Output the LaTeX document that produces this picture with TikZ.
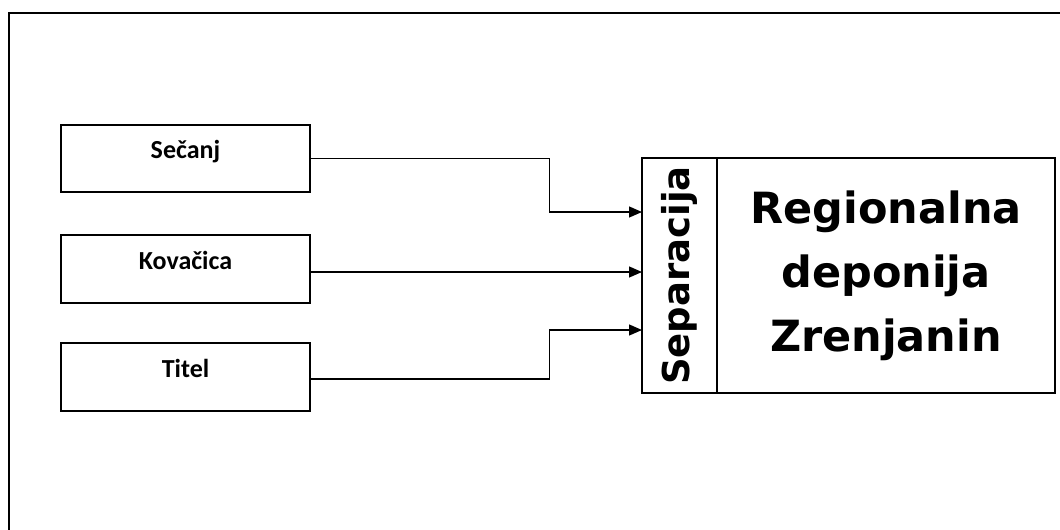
\documentclass[tikz,border=0pt]{standalone}
\usepackage{fontspec}
\setmainfont{Carlito}
\newfontfamily\bigfont{DejaVu Sans}
\usetikzlibrary{arrows.meta}
\begin{document}
\begin{tikzpicture}[x=1pt,y=-1pt,
  srcbox/.style={draw, line width=1.4pt, minimum width=249pt, inner sep=0pt,
    text height=10pt, text depth=10pt, font=\fontsize{26}{30}\selectfont\bfseries},
  bigbox/.style={draw, line width=1.3pt, minimum height=235pt, inner sep=0pt},
  conn/.style={line width=1.3pt, -{Triangle[length=13pt,width=11pt]}},
  frame/.style={line width=2pt}
]
\useasboundingbox (0,0) rectangle (1060,530);
% outer frame (only top and left edges visible)
\coordinate (fa) at (1060,13);
\coordinate (fb) at (9,13);
\coordinate (fc) at (9,530);
\draw[frame] (fa) -- (fb) -- (fc);
% source boxes
\node[srcbox, minimum height=67pt] (s) at (185.5,158.5) {Sečanj};
\node[srcbox, minimum height=68pt] (k) at (185.5,269) {Kovačica};
\node[srcbox, minimum height=68pt] (t) at (185.5,377) {Titel};
% target
\node[bigbox, minimum width=75pt, font=\bigfont\bfseries\fontsize{37}{40}\selectfont]
  (sep) at (679.5,275.5) {\rotatebox{90}{Separacija}};
\node[bigbox, minimum width=338pt, align=center,
  font=\bigfont\bfseries\fontsize{43}{64}\selectfont]
  (main) at (886,275.5) {Regionalna\\deponija\\Zrenjanin};
% entry points on the separation column
\coordinate (in1) at (642,212);
\coordinate (in2) at (642,272);
\coordinate (in3) at (642,330);
% connectors
\draw[conn] (s.east) -- ++(239,0) |- (in1);
\draw[conn] ([yshift=-3pt]k.east) -- (in2);
\draw[conn] ([yshift=-2pt]t.east) -- ++(239,0) |- (in3);
\end{tikzpicture}
\end{document}
